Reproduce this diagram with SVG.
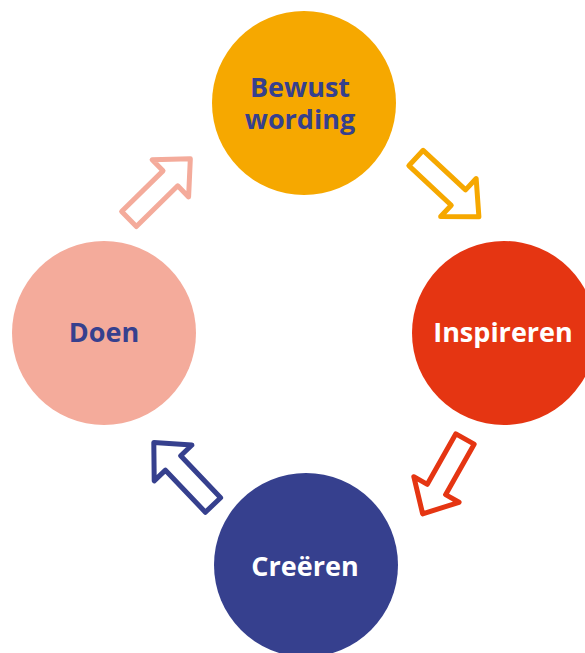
<svg xmlns="http://www.w3.org/2000/svg" xmlns:xlink="http://www.w3.org/1999/xlink" width="585" height="653" viewBox="0 0 585 653">
<style>
.lbl{font-family:"Open Sans","Liberation Sans",sans-serif;font-weight:700;font-size:27px;text-anchor:middle}
.arr{fill:#fff;stroke-width:5;stroke-linejoin:round}
</style>
<defs>
<path id="arrow" d="M0,-10.5 L58,-10.5 L58,-26 L86,0 L58,26 L58,10.5 L0,10.5 Z"/>
</defs>
<rect width="585" height="653" fill="#fff"/>
<g id="connectors">
<use xlink:href="#arrow" class="arr" stroke="#F6A800" transform="translate(416,158) rotate(43)"/>
<use xlink:href="#arrow" class="arr" stroke="#E53512" transform="translate(465,439) rotate(119.5)"/>
<use xlink:href="#arrow" class="arr" stroke="#36408E" transform="translate(213,505) rotate(226.5)"/>
<use xlink:href="#arrow" class="arr" stroke="#F4AB9B" transform="translate(129,219) rotate(-44.5)"/>
</g>
<g id="bewustwording">
<circle cx="304" cy="103" r="92" fill="#F6A800"/>
<text class="lbl" x="300" y="97" fill="#36408E">Bewust</text>
<text class="lbl" x="300" y="129" fill="#36408E">wording</text>
</g>
<g id="inspireren">
<circle cx="504" cy="333" r="92" fill="#E53512"/>
<text class="lbl" x="503" y="342" fill="#fff">Inspireren</text>
</g>
<g id="creeren">
<circle cx="306" cy="565" r="92" fill="#36408E"/>
<text class="lbl" x="305" y="576" fill="#fff">Creëren</text>
</g>
<g id="doen">
<circle cx="104" cy="333" r="92" fill="#F4AB9B"/>
<text class="lbl" x="104" y="342" fill="#36408E">Doen</text>
</g>
</svg>
